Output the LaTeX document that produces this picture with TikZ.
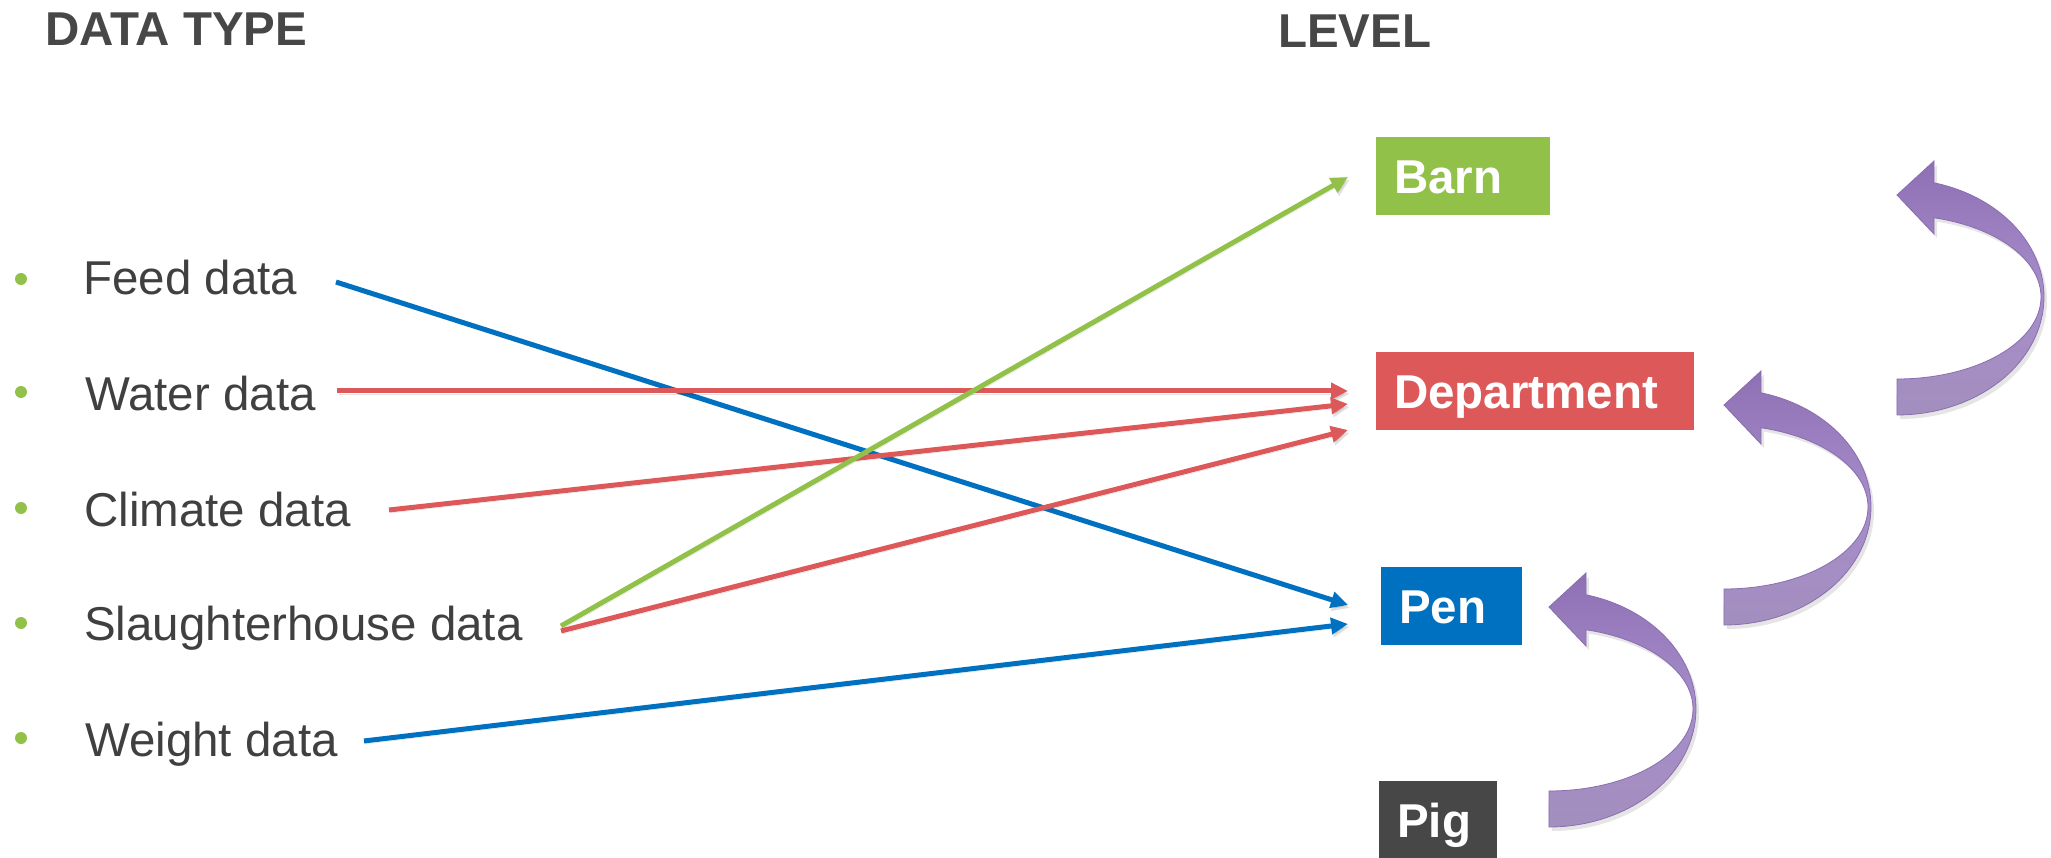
\documentclass[tikz,border=0pt]{standalone}
\usepackage{fontspec}
\setmainfont{Liberation Sans}
\usetikzlibrary{arrows.meta,shadows}
\definecolor{txt}{RGB}{64,64,64}
\definecolor{headc}{RGB}{71,71,71}
\definecolor{lgreen}{RGB}{146,193,74}
\definecolor{lred}{RGB}{221,89,89}
\definecolor{lblue}{RGB}{0,112,192}
\definecolor{pigc}{RGB}{71,71,71}
\definecolor{purpA}{RGB}{142,112,180}
\definecolor{purpB}{RGB}{166,140,202}
\definecolor{purpC}{RGB}{163,143,190}
\definecolor{purpE}{RGB}{138,110,175}
\begin{document}
\begin{tikzpicture}[x=1pt,y=-1pt,
  heading/.style={anchor=base west, inner sep=0pt, text=headc, font=\fontsize{47.5}{50}\selectfont\bfseries},
  item/.style={anchor=base west, inner sep=0pt, text=txt, font=\fontsize{47.5}{52}\selectfont},
  dot/.style={circle, fill=lgreen, minimum size=12pt, inner sep=0pt},
  levelbox/.style={anchor=north west, rectangle, minimum height=78pt, inner xsep=18pt, inner ysep=0pt, align=left, text=white, text height=34pt, text depth=0pt, font=\fontsize{47.5}{50}\selectfont\bfseries},
  conn/.style={line width=5pt, -{Triangle[length=17pt,width=16pt]},
    preaction={draw=black, opacity=0.12, transform canvas={xshift=1.5pt,yshift=-3pt}}},
  arrowfill/.style={top color=purpA, bottom color=purpC, middle color=purpB, draw=purpE, line width=0.8pt,
    drop shadow={opacity=0.2, shadow xshift=3pt, shadow yshift=-4pt}},
  curvarr/.pic={
    \path[arrowfill] (0,82) arc[start angle=90, end angle=-75.1, x radius=144, y radius=82]
      -- (37,-63) -- (0,-102) -- (37,-136) -- (37,-114.2)
      arc[start angle=-75.4, end angle=90, x radius=147, y radius=118] -- cycle;
  }
]
\fill[white] (0,0) rectangle (2051,858);
\useasboundingbox (0,0) rectangle (2051,858);

% headings
\node[heading] (hdata) at (45,46) {DATA TYPE};
\node[heading] (hlevel) at (1278,48) {LEVEL};

% bullets and items
\node[dot] (d1) at (21,279) {};
\node[dot] (d2) at (21,392) {};
\node[dot] (d3) at (21,508) {};
\node[dot] (d4) at (21,623) {};
\node[dot] (d5) at (21,738) {};
\node[item] (feed) at (83,295) {Feed data};
\node[item] (water) at (85,410) {Water data};
\node[item] (climate) at (84,526) {Climate data};
\node[item] (slaughter) at (84,640) {Slaughterhouse data};
\node[item] (weight) at (85,756) {Weight data};

% level boxes
\node[levelbox, fill=lgreen, text width=138pt] (barn) at (1376,137) {Barn};
\node[levelbox, fill=lred, text width=282pt] (dept) at (1376,352) {Department};
\node[levelbox, fill=lblue, text width=105pt] (pen) at (1381,567) {Pen};
\node[levelbox, fill=pigc, text width=82pt] (pig) at (1379,781) {Pig};

% connector end points
\coordinate (feedS) at (336,282);
\coordinate (waterS) at (337,391);
\coordinate (climateS) at (389,510);
\coordinate (slaughterSg) at (561,626);
\coordinate (slaughterSr) at (561,631);
\coordinate (weightS) at (364,741);
\coordinate (barnE) at (1348,177);
\coordinate (deptE1) at (1348,391);
\coordinate (deptE2) at (1348,404);
\coordinate (deptE3) at (1348,430);
\coordinate (penE1) at (1348,605);
\coordinate (penE2) at (1348,624);

\draw[conn, lblue] (feedS) -- (penE1);
\draw[conn, lred] (waterS) -- (deptE1);
\draw[conn, lred] (climateS) -- (deptE2);
\draw[conn, lred] (slaughterSr) -- (deptE3);
\draw[conn, lblue] (weightS) -- (penE2);
\draw[conn, lgreen] (slaughterSg) -- (barnE);

% curved purple arrows
\pic (arr1) at (1897,297) {curvarr};
\pic (arr2) at (1724,507) {curvarr};
\pic (arr3) at (1549,709) {curvarr};
\end{tikzpicture}
\end{document}
